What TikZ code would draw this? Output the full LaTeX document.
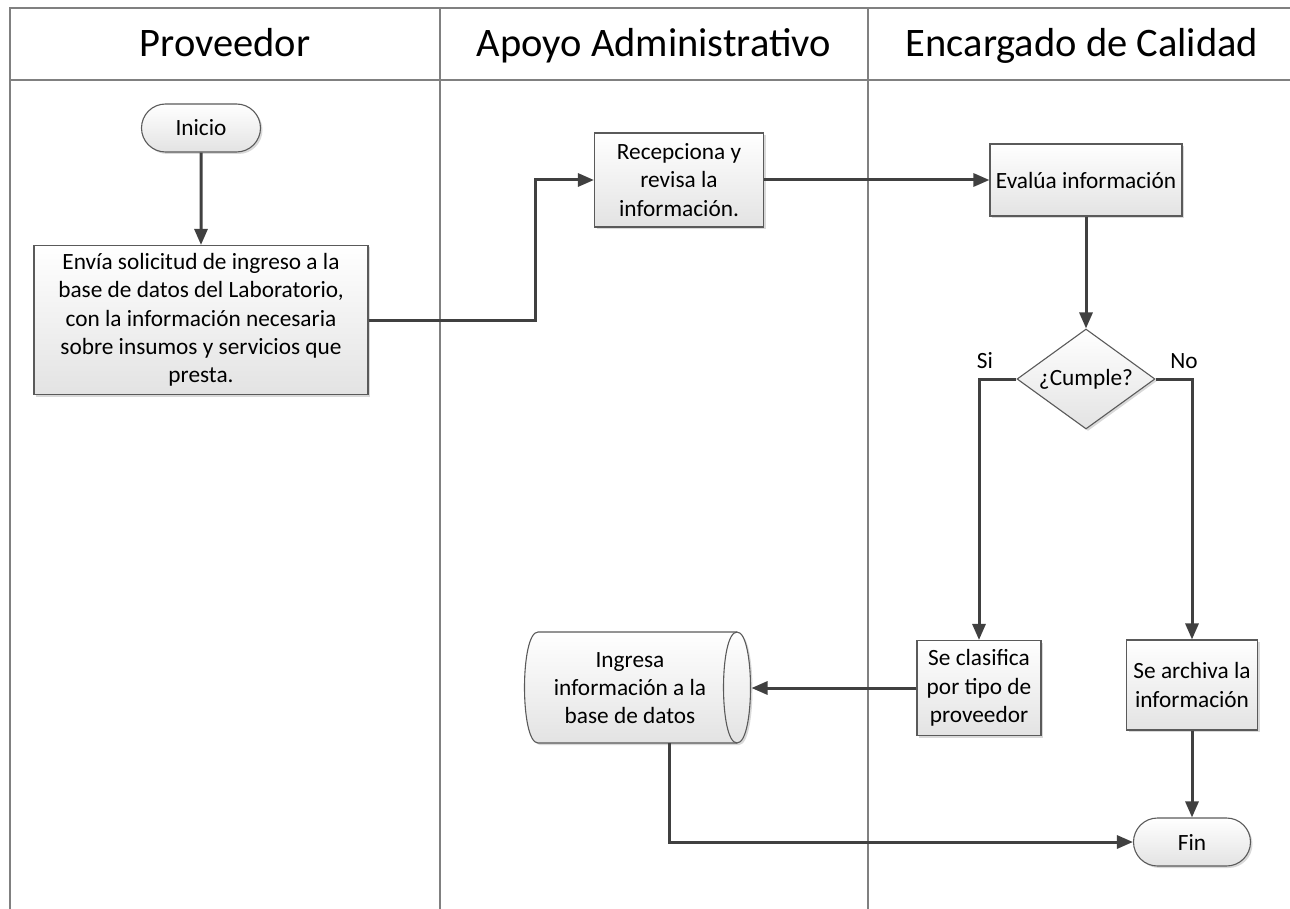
\documentclass[tikz,border=0pt]{standalone}
\usepackage{fontspec}
\setmainfont{Carlito}
\usetikzlibrary{arrows.meta,shapes.geometric,shapes.misc,shadows}
\definecolor{lnc}{HTML}{404040}
\definecolor{frm}{HTML}{808080}
\definecolor{boxb}{HTML}{5A5A5A}
\begin{document}
\begin{tikzpicture}[x=1pt,y=-1pt,
  every node/.style={font=\fontsize{23.3}{28.3}\selectfont},
  hdr/.style={font=\fontsize{40.5}{46}\selectfont, anchor=base},
  frame/.style={draw=frm, line width=1.3pt},
  box/.style={draw=boxb, line width=1.1pt, top color=white, bottom color=gray!22,
    drop shadow={shadow xshift=2pt, shadow yshift=-2pt, opacity=0.3},
    align=center, inner sep=1pt},
  term/.style={box, rounded rectangle},
  flow/.style={draw=lnc, line width=3pt, -{Triangle[length=16pt,width=13pt]}},
]
\useasboundingbox (0,0) rectangle (1290,909);
% lanes
\draw[frame] (1290,8) -- (10,8) -- (10,909);
\draw[frame] (10,80) -- (1290,80);
\draw[frame] (440,8) -- (440,909);
\draw[frame] (868,8) -- (868,909);
\node[hdr] (h1) at (225,57) {Proveedor};
\node[hdr] (h2) at (654,57) {Apoyo Administrativo};
\node[hdr] (h3) at (1082,57) {Encargado de Calidad};

% nodes
\node[term, minimum width=121pt, minimum height=48pt] (ini) at (201,128) {Inicio};
\node[box, minimum width=334pt, minimum height=149pt] (env) at (201,320)
  {Envía solicitud de ingreso a la\\base de datos del Laboratorio,\\con la información necesaria\\sobre insumos y servicios que\\presta.};
\node[box, minimum width=169pt, minimum height=94pt] (rec) at (679,180)
  {Recepciona y\\revisa la\\información.};
\node[box, minimum width=192pt, minimum height=72pt] (eva) at (1086,180)
  {Evalúa información};
\node[box, diamond, aspect=1.38, minimum width=138pt, minimum height=100pt, inner sep=0pt] (dec) at (1086,379)
  {¿Cumple?};
\node[box, minimum width=124pt, minimum height=95pt] (cla) at (979,688)
  {Se clasifica\\por tipo de\\proveedor};
\node[box, minimum width=131pt, minimum height=90pt] (arc) at (1192,685)
  {Se archiva la\\información};
\node[term, minimum width=119pt, minimum height=48pt] (fin) at (1192,842) {Fin};

% cylinder (direct access storage)
\path[draw=boxb, line width=1.1pt, top color=white, bottom color=gray!22,
    drop shadow={shadow xshift=2pt, shadow yshift=-2pt, opacity=0.3}]
  (538,632) .. controls (520,632) and (520,743) .. (538,743)
  -- (737,743) .. controls (755,743) and (755,632) .. (737,632) -- cycle;
\draw[draw=boxb, line width=1.1pt] (737,632) .. controls (719,632) and (719,743) .. (737,743);
\node[align=center] (ing) at (630,688) {Ingresa\\información a la\\base de datos};
\coordinate (ingE) at (751.5,688);
\coordinate (ingB) at (669,743);
\coordinate (bend1) at (535,250);

% labels
\node (si) at (985,361) {Si};
\node (no) at (1184,361) {No};

% connectors
\draw[flow] (ini) -- (env);
\draw[flow] (env.east) -| (bend1) |- (rec.west);
\draw[flow] (rec) -- (eva);
\draw[flow] (eva) -- (dec);
\draw[flow] (dec.west) -| (cla.north);
\draw[flow] (dec.east) -| (arc.north);
\draw[flow] (cla.west) -- (ingE);
\draw[flow] (ingB) |- (fin.west);
\draw[flow] (arc) -- (fin);
\end{tikzpicture}
\end{document}
